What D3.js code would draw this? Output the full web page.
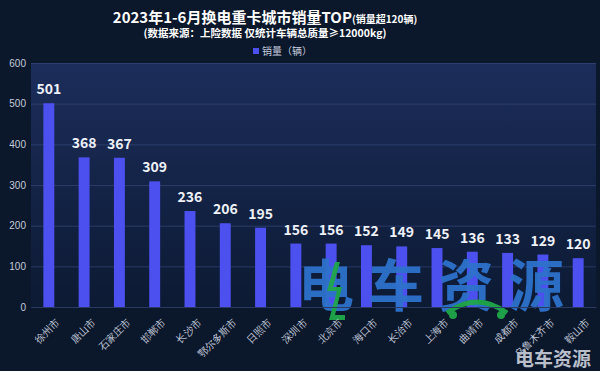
<!DOCTYPE html>
<html>
<head>
<meta charset="utf-8">
<script src="https://cdn.jsdelivr.net/npm/d3@7"></script>
<style>
  html, body { margin: 0; padding: 0; background: #0b172b; }
  svg { display: block; font-family: "Noto Sans CJK SC", "Noto Sans", sans-serif; }
</style>
</head>
<body>
<script>
// data
var cities = ["徐州市", "唐山市", "石家庄市", "邯郸市", "长沙市", "鄂尔多斯市", "日照市", "深圳市",
	"北京市", "海口市", "长治市", "上海市", "曲靖市", "成都市", "乌鲁木齐市", "鞍山市"];
var sales = [501, 368, 367, 309, 236, 206, 195, 156, 156, 152, 149, 145, 136, 133, 129, 120];
var yTicks = [0, 100, 200, 300, 400, 500, 600];

var width = 600, height = 371;
var margin = {top: 63, right: 4, bottom: 64, left: 31};

var svg = d3.select("body").append("svg")
	.attr("width", width)
	.attr("height", height);

var defs = svg.append("defs");
var grad = defs.append("linearGradient")
	.attr("id", "plotbg")
	.attr("x1", 0).attr("y1", 0).attr("x2", 0).attr("y2", 1);
grad.append("stop").attr("offset", "0%").attr("stop-color", "#1c2d5b");
grad.append("stop").attr("offset", "100%").attr("stop-color", "#0c1a33");

svg.append("rect")
	.attr("width", width).attr("height", height)
	.attr("fill", "#0b172b");

var x = d3.scaleBand()
	.domain(cities)
	.range([margin.left, width - margin.right])
	.paddingInner(0.69)
	.paddingOuter(0.35);

var y = d3.scaleLinear()
	.domain([0, 600])
	.range([height - margin.bottom, margin.top]);

// plot background
svg.append("rect")
	.attr("x", margin.left)
	.attr("y", y(600))
	.attr("width", width - margin.right - margin.left)
	.attr("height", y(0) - y(600))
	.attr("fill", "url(#plotbg)");

// y axis + grid
var yAxis = svg.append("g")
	.attr("transform", "translate(" + margin.left + ",0)")
	.call(d3.axisLeft(y).tickValues(yTicks).tickSize(-(width - margin.right - margin.left)).tickPadding(5));
yAxis.select(".domain").remove();
yAxis.selectAll(".tick line")
	.attr("stroke", "#34477a")
	.attr("stroke-opacity", 0.7);
yAxis.selectAll(".tick text")
	.attr("fill", "#c3cbdb")
	.attr("font-size", 10);

// bars
svg.selectAll(".bar")
	.data(sales)
	.enter().append("rect")
	.attr("class", "bar")
	.attr("x", function(d, i) { return x(cities[i]); })
	.attr("y", function(d) { return y(d); })
	.attr("width", x.bandwidth())
	.attr("height", function(d) { return y(0) - y(d); })
	.attr("fill", "#4c50ee");

// big watermark (drawn over the bars, under the labels)
var wm = svg.append("g").attr("opacity", 0.95);
wm.append("text")
	.attr("x", 298).attr("y", 306)
	.attr("fill", "#2e72cc")
	.attr("font-size", 56)
	.attr("font-weight", "bold")
	.attr("letter-spacing", 14)
	.text("电车资源");
wm.append("path")
	.attr("d", "M335,262 L327,291 L337,291 L329,320 L345,320 L345,315 L335,315 L342,287 L333,287 L340,262 Z")
	.attr("fill", "#1fa84a");
wm.append("path")
	.attr("d", "M447,313 Q477,291 507,313")
	.attr("fill", "none")
	.attr("stroke", "#1fa84a")
	.attr("stroke-width", 5);
wm.append("circle").attr("cx", 453).attr("cy", 315).attr("r", 4).attr("fill", "#1fa84a");
wm.append("circle").attr("cx", 501).attr("cy", 315).attr("r", 4).attr("fill", "#1fa84a");

// value labels
svg.selectAll(".val")
	.data(sales)
	.enter().append("text")
	.attr("class", "val")
	.attr("x", function(d, i) { return x(cities[i]) + x.bandwidth() / 2; })
	.attr("y", function(d) { return y(d) - 9; })
	.attr("text-anchor", "middle")
	.attr("fill", "#eef1f8")
	.attr("font-size", 14)
	.attr("font-weight", "bold")
	.text(function(d) { return d; });

// x axis
var xAxis = svg.append("g")
	.attr("transform", "translate(0," + y(0) + ")")
	.call(d3.axisBottom(x).tickSize(0).tickPadding(6));
xAxis.select(".domain").attr("stroke", "#2a3a62");
xAxis.selectAll(".tick text")
	.attr("fill", "#c3cbdb")
	.attr("font-size", 10)
	.attr("text-anchor", "end")
	.attr("dy", "0.35em")
	.attr("transform", "translate(5,9) rotate(-45)");

// small watermark
svg.append("text")
	.attr("x", 591).attr("y", 366)
	.attr("text-anchor", "end")
	.attr("fill", "#b9bfca")
	.attr("font-size", 19)
	.attr("font-weight", "bold")
	.text("电车资源");

// titles
var title = svg.append("text")
	.attr("x", 265).attr("y", 23)
	.attr("text-anchor", "middle")
	.attr("fill", "#ffffff")
	.attr("font-weight", "bold");
title.append("tspan").attr("font-size", 15).text("2023年1-6月换电重卡城市销量TOP");
title.append("tspan").attr("font-size", 10).text("(销量超120辆)");

svg.append("text")
	.attr("x", 265).attr("y", 37)
	.attr("text-anchor", "middle")
	.attr("fill", "#ffffff")
	.attr("font-size", 10.5)
	.attr("font-weight", "bold")
	.text("(数据来源：上险数据  仅统计车辆总质量≥12000kg)");

// legend
svg.append("rect")
	.attr("x", 253).attr("y", 48)
	.attr("width", 6).attr("height", 6)
	.attr("fill", "#4c50ee");
svg.append("text")
	.attr("x", 262).attr("y", 55)
	.attr("fill", "#c3cbdb")
	.attr("font-size", 10)
	.text("销量（辆）");
</script>
</body>
</html>
